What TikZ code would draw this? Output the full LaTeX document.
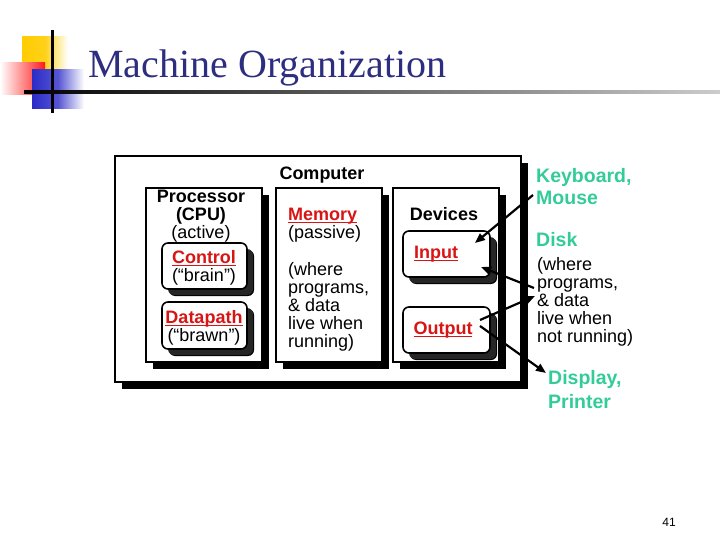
\documentclass[tikz,border=0pt]{standalone}
\usepackage{fontspec}
\setmainfont{Liberation Sans}
\newfontfamily\titlefont{Liberation Serif}
\usetikzlibrary{arrows.meta, positioning, shadows}
\definecolor{titleNavy}{HTML}{2E2E80}
\definecolor{keyRed}{HTML}{D81414}
\definecolor{ioTeal}{HTML}{33CC99}
\definecolor{decoYellow}{HTML}{FFCC00}
\definecolor{decoRed}{HTML}{FF1A1A}
\definecolor{decoBlue}{HTML}{2B2BC8}
\newcommand{\keyword}[1]{\textcolor{keyRed}{\bfseries\setbox0\hbox{#1}\rlap{\rule[-2.6pt]{\wd0}{1.3pt}}\box0}}

\begin{document}
\begin{tikzpicture}[x=1pt, y=-1pt,
    every node/.style={font=\fontsize{18}{18}\selectfont, inner sep=0pt},
    box/.style={draw, line width=1.6pt, fill=white,
      drop shadow={shadow xshift=7pt, shadow yshift=-7pt, fill=black, opacity=1}},
    roundbox/.style={box, rounded corners=6pt,
      drop shadow={shadow xshift=6pt, shadow yshift=-6pt, fill=black!85, opacity=1}},
    iolabel/.style={align=left, anchor=west, text=ioTeal, font=\fontsize{19.5}{22}\selectfont\bfseries},
    arr/.style={-{Triangle[length=10pt, width=8pt]}, line width=2.2pt}]
  \useasboundingbox (0,0) rectangle (720,540);

  % title decoration
  \shade[left color=decoYellow, right color=white, middle color=decoYellow!90] (22,37) rectangle (68,72);
  \shade[left color=white, right color=decoRed] (0,63) rectangle (45,95);
  \shade[left color=decoBlue, right color=white, middle color=decoBlue!80] (32,70) rectangle (84,109);
  \fill (50.5,30) rectangle (53.5,113);
  \shade[left color=black, right color=black!20] (24,90.5) rectangle (720,93.5);
  \node[anchor=base west, font=\fontsize{40}{40}\selectfont\titlefont, text=titleNavy] (title) at (88,78) {Machine Organization};

  % boxes
  \node[box, minimum width=406pt, minimum height=226pt] (computer) at (318,269) {};
  \node (complabel) at (322,175) {\textbf{Computer}};
  \node[box, minimum width=116pt, minimum height=174pt] (proc) at (204,275) {};
  \node[box, minimum width=106pt, minimum height=174pt] (mem) at (329,275) {};
  \node[box, minimum width=106pt, minimum height=174pt] (dev) at (446,275) {};
  \node[roundbox, minimum width=85pt, minimum height=46pt] (ctrl) at (204.5,266) {};
  \node[roundbox, minimum width=85pt, minimum height=47pt] (dpath) at (204.5,325.5) {};
  \node[roundbox, minimum width=87pt, minimum height=46pt] (input) at (446.5,254) {};
  \node[roundbox, minimum width=87pt, minimum height=46pt] (output) at (446.5,330) {};

  % texts
  \node[align=center] (proclabel) at (201,216) {\textbf{Processor}\\\textbf{(CPU)}\\(active)};
  \node[align=center] (ctrllabel) at (204,268) {\keyword{Control}\\(``brain'')};
  \node[align=center] (dpathlabel) at (204,328) {\keyword{Datapath}\\(``brawn'')};
  \node[align=left, anchor=north west] (memlabel) at (288,208) {\keyword{Memory}\\(passive)\\[19pt](where\\programs,\\\& data\\live when\\running)};
  \node (devlabel) at (444,214) {\textbf{Devices}};
  \node (inlabel) at (436,254) {\keyword{Input}};
  \node (outlabel) at (443,330) {\keyword{Output}};

  % outside world
  \node[iolabel] (kbd) at (536,187) {Keyboard,\\Mouse};
  \node[iolabel] (disk) at (536,240) {Disk};
  \node[align=left, anchor=north west] (diskinfo) at (537,257) {(where\\programs,\\\& data\\live when\\not running)};
  \node[iolabel, font=\fontsize{19.5}{24}\selectfont\bfseries] (disp) at (548,390) {Display,\\Printer};
  \node[font=\fontsize{12}{12}\selectfont] (page) at (669,522) {41};

  % connectors
  \coordinate (kbdend) at (533,195);
  \coordinate (inA) at (475,243);
  \coordinate (inB) at (481,267);
  \coordinate (diskA) at (534,288);
  \coordinate (diskB) at (535,296);
  \coordinate (outA) at (480,320);
  \coordinate (outB) at (480,326);
  \coordinate (dispend) at (546,373);
  \draw[arr] (kbdend) -- (inA);
  \draw[arr] (diskA) -- (inB);
  \draw[arr] (outA) -- (diskB);
  \draw[arr] (outB) -- (dispend);
\end{tikzpicture}
\end{document}
